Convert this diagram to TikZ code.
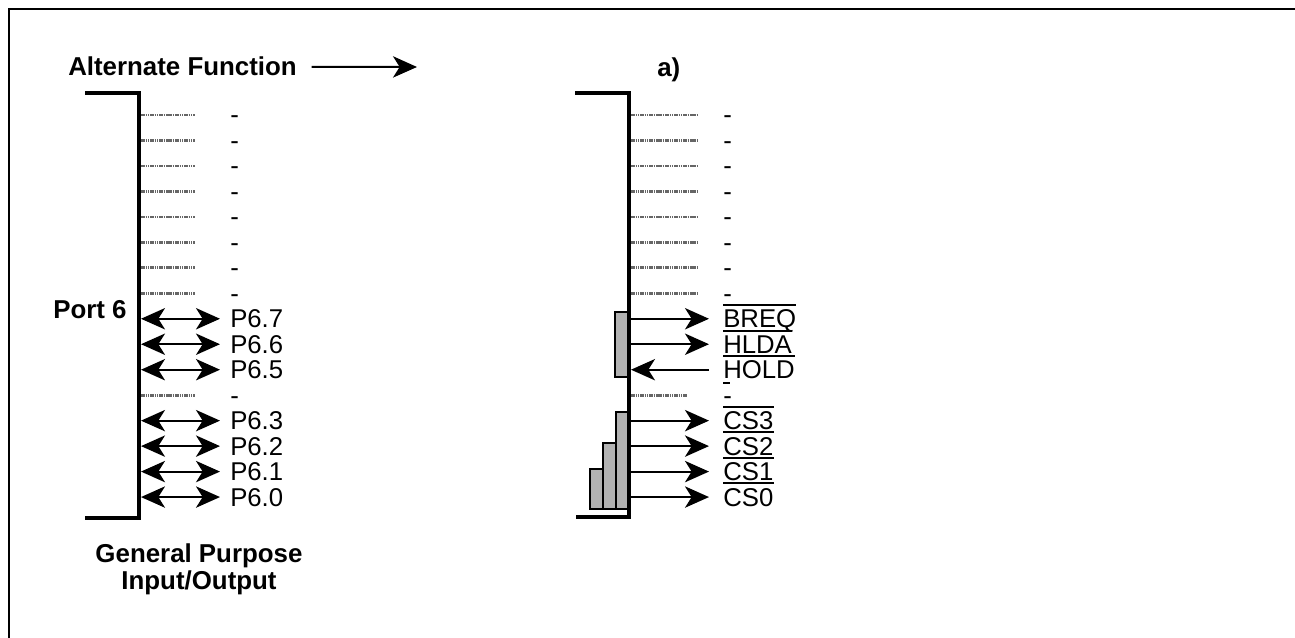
\documentclass[tikz,border=0pt]{standalone}
\usepackage{fontspec}
\setmainfont{Liberation Sans}
\usetikzlibrary{arrows.meta}
\begin{document}
\begin{tikzpicture}[x=0.75pt,y=-0.75pt,
  >={Stealth[length=18pt,width=16pt,inset=5pt]},
  frame/.style={line width=1.5pt},
  bracket/.style={line width=2.4pt},
  dotline/.style={line width=2pt, black!60, dash pattern=on 1.2pt off 0.5pt},
  sig/.style={line width=1.5pt,->},
  dsig/.style={line width=1.5pt,<->},
  lbl/.style={font=\fontsize{19.3}{20.3}\selectfont, inner sep=0pt, anchor=base west},
  blbl/.style={font=\fontsize{19.4}{20.5}\selectfont\bfseries, inner sep=0pt},
  bar/.style={draw=black, line width=1.3pt, fill=black!30},
  ovl/.style={line width=1.3pt}]
\useasboundingbox (0,0) rectangle (1295,638);
% frame
\draw[frame] (9,640) -- (9,9) -- (1297,9);
% titles
\node[blbl, anchor=base west] (alt) at (68,76) {Alternate Function};
\coordinate (altEnd) at (417,67);
\draw[sig] ([xshift=11pt]alt.east) -- (altEnd);
\node[blbl, anchor=base west] (a) at (657,77) {a)};
\node[blbl, anchor=base west] (port) at (53,318) {Port 6};
\node[blbl, align=center, anchor=north] (gpio) at (199,543) {General Purpose\\Input/Output};
% gray bars
\draw[bar] (615,312) rectangle (629,377);
\draw[bar] (616,412) rectangle (629,509);
\draw[bar] (603,443) rectangle (616,509);
\draw[bar] (590,469) rectangle (603,509);
% brackets
\draw[bracket] (85,93) -- (139,93) -- (139,518) -- (85,518);
\draw[bracket] (575,93) -- (629,93) -- (629,517) -- (576,517);
% dashed rows
\foreach \i in {0,...,7,11} {
  \pgfmathsetmacro\yy{115+25.47*\i}
  \coordinate (lb\i) at (141,\yy);
  \node[lbl] (ld\i) at (230,\yy+9) {-};
  \draw[dotline] (lb\i) -- ++(54,0);
  \coordinate (rb\i) at (631,\yy);
  \node[lbl] (rd\i) at (723,\yy+9) {-};
}
\foreach \i in {0,...,7} {\draw[dotline] (rb\i) -- ++(66,0);}
\draw[dotline] (rb11) -- ++(56,0);
% left signals
\foreach \i/\t in {8/P6.7,9/P6.6,10/P6.5,12/P6.3,13/P6.2,14/P6.1,15/P6.0} {
  \pgfmathsetmacro\yy{115+25.47*\i}
  \coordinate (lb\i) at (141,\yy);
  \coordinate (le\i) at (220,\yy);
  \node[lbl] (lp\i) at (230,\yy+9) {\t};
  \draw[dsig] (lb\i) -- (le\i);
}
% right signals
\foreach \i/\t in {8/BREQ,9/HLDA,10/HOLD,12/CS3,13/CS2,14/CS1,15/CS0} {
  \pgfmathsetmacro\yy{115+25.47*\i}
  \coordinate (rb\i) at (631,\yy);
  \coordinate (re\i) at (709,\yy);
  \node[lbl] (rp\i) at (723,\yy+9) {\t};
  \draw[ovl] ([yshift=3.4pt]rp\i.north west) -- ([yshift=3.4pt]rp\i.north east);
}
\foreach \i in {8,9,12,13,14,15} {\draw[sig] (rb\i) -- (re\i);}
\draw[sig] (re10) -- (rb10);
\draw[ovl] ([yshift=-3pt]rp10.south west) -- ++(7,0);
\end{tikzpicture}
\end{document}
